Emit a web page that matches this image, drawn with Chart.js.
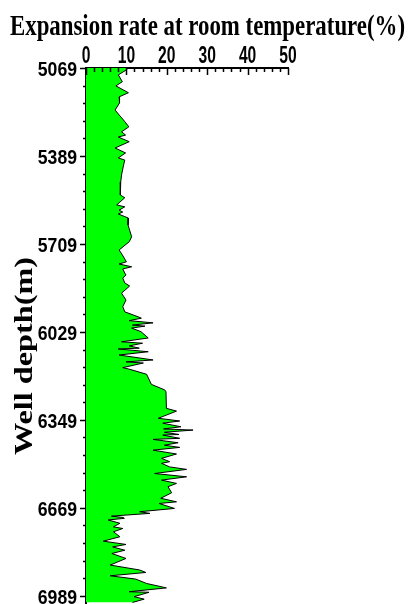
<!DOCTYPE html>
<html>
<head>
<meta charset="utf-8">
<title>Expansion rate at room temperature</title>
<script src="https://cdn.jsdelivr.net/npm/chart.js@4.4.0/dist/chart.umd.min.js"></script>
<style>
    body { margin: 0; background: #ffffff; }
    #wrap { width: 408px; height: 604px; }
</style>
</head>
<body>
<div id="wrap"><canvas id="logChart" width="408" height="604"></canvas></div>

<script>
    const depths = [
        5069, 5076, 5094, 5119, 5134, 5159, 5174, 5196, 5222, 5264,
        5283, 5301, 5313, 5320, 5337, 5360, 5378, 5396, 5404, 5422,
        5458, 5483, 5531, 5541, 5567, 5574, 5586, 5593, 5600, 5615,
        5640, 5683, 5701, 5731, 5749, 5774, 5782, 5792, 5800, 5815,
        5822, 5833, 5851, 5862, 5888, 5913, 5937, 5956, 5974, 5979,
        5988, 5996, 6004, 6008, 6015, 6028, 6051, 6065, 6070, 6080,
        6088, 6091, 6101, 6113, 6131, 6138, 6142, 6159, 6164, 6183,
        6220, 6240, 6247, 6307, 6317, 6343, 6353, 6361, 6374, 6382,
        6386, 6394, 6402, 6404, 6416, 6420, 6432, 6441, 6449, 6459,
        6473, 6489, 6501, 6507, 6520, 6529, 6544, 6556, 6568, 6580,
        6592, 6614, 6634, 6647, 6653, 6671, 6683, 6689, 6699, 6704,
        6707, 6713, 6725, 6738, 6744, 6756, 6774, 6790, 6802, 6811,
        6823, 6835, 6853, 6877, 6895, 6904, 6916, 6928, 6944, 6960,
        6974, 6976, 6992, 7001, 7013
    ];
    const rates = [
        10.4, 10.0, 8.0, 9.0, 7.4, 10.5, 8.2, 8.3, 7.2, 9.6,
        10.6, 8.8, 9.8, 8.0, 10.7, 7.2, 9.8, 8.0, 9.6, 9.3,
        8.8, 8.6, 8.5, 9.6, 7.6, 9.6, 8.2, 9.1, 8.0, 10.5,
        10.4, 11.3, 10.7, 8.2, 9.0, 10.0, 8.2, 11.3, 9.1, 9.6,
        9.9, 9.1, 9.6, 10.8, 8.8, 9.9, 9.1, 9.6, 12.9, 13.7,
        10.7, 16.6, 11.5, 14.6, 11.3, 13.6, 15.4, 8.8, 14.0, 10.7,
        13.2, 8.0, 15.4, 8.2, 16.6, 9.9, 14.2, 9.1, 10.6, 15.0,
        16.2, 19.5, 19.8, 19.9, 22.4, 17.9, 23.2, 19.0, 23.5, 19.2,
        26.5, 19.4, 23.0, 19.0, 23.2, 16.6, 22.8, 19.4, 23.2, 16.6,
        22.4, 18.7, 20.7, 18.7, 20.7, 24.9, 17.0, 24.9, 18.7, 22.4,
        20.3, 21.2, 18.5, 22.4, 18.1, 21.9, 13.3, 15.8, 6.3, 9.2,
        9.5, 5.5, 8.4, 6.8, 9.1, 6.8, 8.4, 4.3, 9.9, 6.6,
        9.6, 6.4, 9.9, 6.0, 13.3, 14.8, 6.0, 12.3, 15.0, 19.9,
        10.7, 15.6, 11.9, 14.4, 11.5
    ];

    const titleText = 'Expansion rate at room temperature(%)';
    const depthTitle = 'Well depth(m)';
    const depthLabels = [5069, 5389, 5709, 6029, 6349, 6669, 6989];
    const rateLabels = [0, 10, 20, 30, 40, 50];
    const depthMinorStep = 64;
    const rateMinorStep = 2;
    const depthMax = 7015;

    // narrow bold digits: the sans font is squeezed sideways when drawn
    function drawNarrow(ctx, text, x, y, size, squeeze, align) {
        ctx.save();
        ctx.font = 'bold ' + size + 'px "Liberation Sans", Arial, sans-serif';
        const w = ctx.measureText(text).width * squeeze;
        let left = x;
        if (align === 'right') left = x - w;
        if (align === 'center') left = x - w / 2;
        ctx.translate(left, y);
        ctx.scale(squeeze, 1);
        ctx.textAlign = 'left';
        ctx.textBaseline = 'alphabetic';
        ctx.fillText(text, 0, 0);
        ctx.restore();
    }

    // minor / major tick marks plus their labels
    const tickMarks = {
        id: 'tickMarks',
        afterDatasetsDraw(chart) {
            const ctx = chart.ctx;
            const xs = chart.scales.x;
            const ys = chart.scales.y;
            ctx.save();
            ctx.strokeStyle = '#000';
            ctx.fillStyle = '#000';
            ctx.lineWidth = 1.5;
            ctx.beginPath();
            xs.ticks.forEach(t => {
                const px = Math.round(xs.getPixelForValue(t.value)) + 0.5;
                const len = rateLabels.includes(t.value) ? 7 : 4;
                ctx.moveTo(px, xs.bottom);
                ctx.lineTo(px, xs.bottom + len);
            });
            ys.ticks.forEach(t => {
                const py = Math.round(ys.getPixelForValue(t.value)) + 0.5;
                const len = depthLabels.includes(t.value) ? 6 : 3;
                ctx.moveTo(ys.right - len, py);
                ctx.lineTo(ys.right, py);
            });
            ctx.stroke();

            rateLabels.forEach(v => {
                drawNarrow(ctx, String(v), xs.getPixelForValue(v), xs.bottom - 5, 23, 0.68, 'center');
            });
            depthLabels.forEach(v => {
                drawNarrow(ctx, String(v), ys.right - 9, ys.getPixelForValue(v) + 8, 21, 0.84, 'right');
            });
            ctx.restore();
        }
    };

    // squeezed title on top and stretched axis title on the left
    const logText = {
        id: 'logText',
        afterDraw(chart) {
            const ctx = chart.ctx;
            ctx.save();
            ctx.fillStyle = '#000';
            ctx.textBaseline = 'alphabetic';
            ctx.font = 'bold 30px "Liberation Serif", "Times New Roman", serif';
            let w = ctx.measureText(titleText).width;
            ctx.translate(10, 35);
            ctx.scale(395 / w, 1);
            ctx.fillText(titleText, 0, 0);
            ctx.restore();

            ctx.save();
            ctx.fillStyle = '#000';
            ctx.textBaseline = 'alphabetic';
            ctx.textAlign = 'center';
            ctx.font = 'bold 25px "Liberation Serif", "Times New Roman", serif';
            w = ctx.measureText(depthTitle).width;
            ctx.translate(32, 356);
            ctx.rotate(-Math.PI / 2);
            ctx.scale(198 / w, 1);
            ctx.fillText(depthTitle, 0, 0);
            ctx.restore();
        }
    };

    const points = depths.map((d, i) => ({ x: rates[i], y: d }));

    const ctx1 = document.getElementById('logChart').getContext('2d');
    const mychart = new Chart(ctx1, {
        type: 'line',
        data: {
            datasets: [{
                label: 'Expansion rate',
                data: points,
                borderColor: '#000000',
                borderWidth: 1,
                backgroundColor: '#00ff00',
                fill: 'origin',
                pointRadius: 0,
                tension: 0
            }]
        },
        options: {
            responsive: false,
            animation: false,
            indexAxis: 'y',
            layout: { padding: { left: 0, right: 120, top: 0, bottom: 1 } },
            plugins: {
                legend: { display: false },
                title: { display: false },
                tooltip: { enabled: false }
            },
            scales: {
                x: {
                    type: 'linear',
                    position: 'top',
                    min: 0,
                    max: 50,
                    grid: { display: false },
                    border: { display: true, color: '#000', width: 2 },
                    afterBuildTicks: (scale) => {
                        const t = [];
                        for (let v = 0; v <= 50; v += rateMinorStep) t.push({ value: v });
                        scale.ticks = t;
                    },
                    afterFit: (scale) => {
                        scale.height = 68;
                        scale.paddingLeft = 0;
                        scale.paddingRight = 0;
                    },
                    ticks: { display: false }
                },
                y: {
                    type: 'linear',
                    reverse: true,
                    min: depthLabels[0],
                    max: depthMax,
                    grid: { display: false },
                    border: { display: true, color: '#000', width: 2 },
                    afterBuildTicks: (scale) => {
                        const t = [];
                        for (let v = depthLabels[0]; v <= depthMax; v += depthMinorStep) t.push({ value: v });
                        scale.ticks = t;
                    },
                    afterFit: (scale) => {
                        scale.width = 86;
                        scale.paddingTop = 0;
                        scale.paddingBottom = 0;
                    },
                    ticks: { display: false }
                }
            }
        },
        plugins: [tickMarks, logText]
    });
</script>
</body>
</html>
